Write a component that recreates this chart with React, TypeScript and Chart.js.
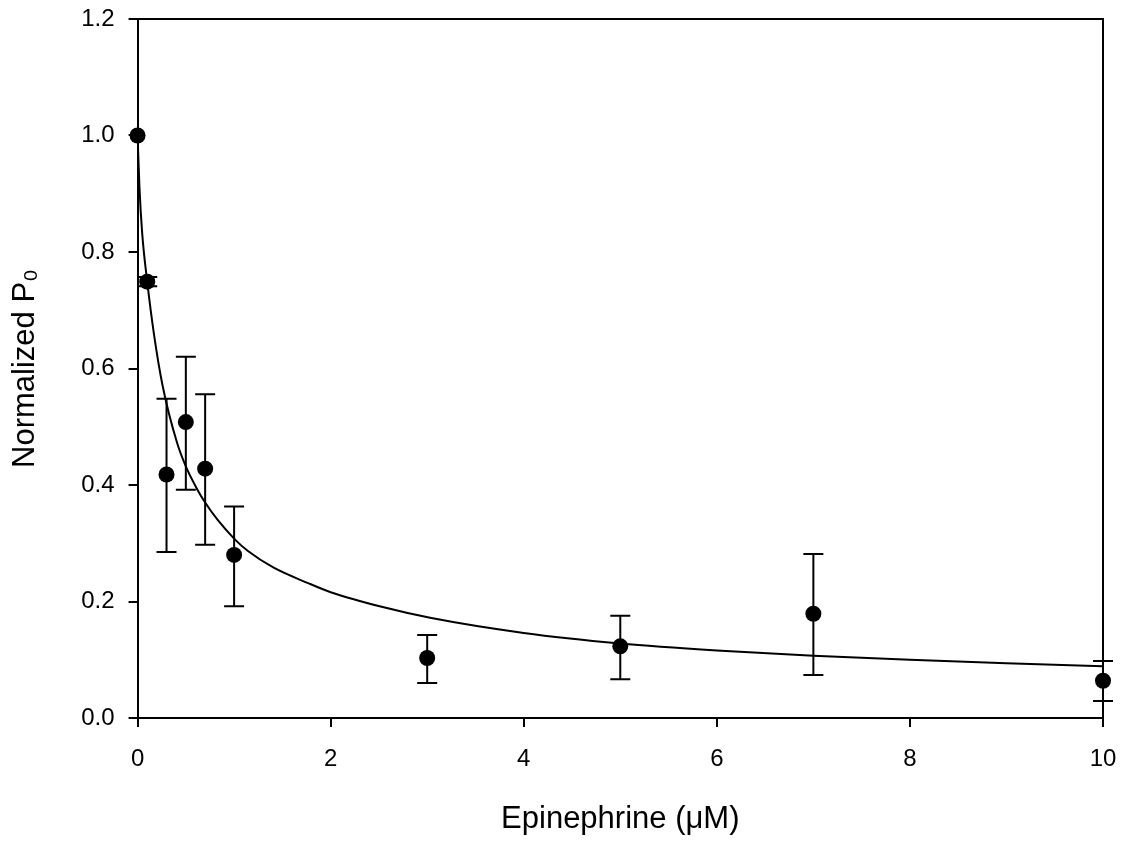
import React, { useEffect, useRef } from "react";
import { Chart, registerables } from "chart.js";

Chart.register(...registerables);

const concentrations = [0, 0.1, 0.3, 0.5, 0.7, 1, 3, 5, 7, 10];
const meanPo = [1.0, 0.749, 0.418, 0.508, 0.428, 0.28, 0.103, 0.123, 0.179, 0.064];
const errHigh = [1.0, 0.757, 0.548, 0.62, 0.556, 0.363, 0.1425, 0.1756, 0.2815, 0.098];
const errLow = [1.0, 0.741, 0.285, 0.392, 0.2975, 0.192, 0.06, 0.0664, 0.0738, 0.029];

const fitX = [0, 0.02, 0.048, 0.1, 0.169, 0.26, 0.41, 0.5, 0.62, 0.7, 0.83, 1.0, 1.14, 1.41, 1.76, 2.0, 2.55, 3.03, 4.0, 5.0, 6.0, 7.0, 8.0, 9.0, 10.0];
const fitY = [1.0, 0.91, 0.832, 0.749, 0.66, 0.57, 0.472, 0.432, 0.392, 0.37, 0.34, 0.308, 0.287, 0.258, 0.232, 0.216, 0.19, 0.172, 0.146, 0.128, 0.116, 0.107, 0.0998, 0.094, 0.089];

const xTicks = [0, 2, 4, 6, 8, 10];
const yTicks = [0, 0.2, 0.4, 0.6, 0.8, 1.0, 1.2];

const FONT = "'Liberation Sans', Arial, Helvetica, sans-serif";

const errorBarPlugin = {
  id: "errorBars",
  afterDatasetsDraw(chart: any) {
    const ctx = chart.ctx;
    const xs = chart.scales.x;
    const ys = chart.scales.y;
    ctx.save();
    ctx.strokeStyle = "#000";
    ctx.lineWidth = 2;
    for (let i = 0; i < concentrations.length; i++) {
      if (errHigh[i] === errLow[i]) continue;
      const px = xs.getPixelForValue(concentrations[i]);
      const pTop = ys.getPixelForValue(errHigh[i]);
      const pBot = ys.getPixelForValue(errLow[i]);
      const cap = 10;
      ctx.beginPath();
      ctx.moveTo(px, pTop);
      ctx.lineTo(px, pBot);
      ctx.moveTo(px - cap, pTop);
      ctx.lineTo(px + cap, pTop);
      ctx.moveTo(px - cap, pBot);
      ctx.lineTo(px + cap, pBot);
      ctx.stroke();
    }
    ctx.restore();
  },
};

const framePlugin = {
  id: "frame",
  afterDraw(chart: any) {
    const { ctx, chartArea } = chart;
    ctx.save();
    ctx.strokeStyle = "#000";
    ctx.lineWidth = 2;
    ctx.beginPath();
    ctx.moveTo(chartArea.left, chartArea.top);
    ctx.lineTo(chartArea.right, chartArea.top);
    ctx.lineTo(chartArea.right, chartArea.bottom);
    ctx.stroke();
    ctx.restore();
  },
};

const noOverflow = (axis: any) => {
  axis.paddingTop = 0;
  axis.paddingBottom = 0;
  axis.paddingLeft = 0;
  axis.paddingRight = 0;
};

export default function App() {
  const canvasRef = useRef<HTMLCanvasElement | null>(null);

  useEffect(() => {
    if (!canvasRef.current) return;
    const chart = new Chart(canvasRef.current, {
      type: "scatter",
      data: {
        datasets: [
          {
            label: "Fit",
            data: fitX.map((x, i) => ({ x, y: fitY[i] })),
            showLine: true,
            borderColor: "#000",
            borderWidth: 2,
            pointRadius: 0,
            cubicInterpolationMode: "monotone",
            fill: false,
          } as any,
          {
            label: "Normalized P0",
            data: concentrations.map((x, i) => ({ x, y: meanPo[i] })),
            pointRadius: 8,
            pointBackgroundColor: "#000",
            pointBorderColor: "#000",
            pointBorderWidth: 0,
            showLine: false,
            clip: false,
          } as any,
        ],
      },
      options: {
        responsive: false,
        animation: false,
        layout: { autoPadding: false, padding: { top: 19, right: 25, left: 0, bottom: 0 } },
        plugins: {
          legend: { display: false },
          tooltip: { enabled: false },
        },
        scales: {
          x: {
            type: "linear",
            min: 0,
            max: 10,
            afterFit: noOverflow,
            afterBuildTicks: (axis: any) => {
              axis.ticks = xTicks.map((v) => ({ value: v }));
            },
            ticks: {
              color: "#000",
              font: { family: FONT, size: 24 },
              padding: 18,
              callback: (v: any) => String(v),
            },
            grid: {
              display: true,
              drawOnChartArea: false,
              drawTicks: true,
              tickLength: 9,
              color: "#000",
              lineWidth: 2,
            },
            border: { display: true, color: "#000", width: 2 },
            title: {
              display: true,
              text: "Epinephrine (\u03bcM)",
              color: "#000",
              font: { family: FONT, size: 31 },
              padding: { top: 9, bottom: 6 },
            },
          },
          y: {
            type: "linear",
            min: 0,
            max: 1.2,
            afterFit: noOverflow,
            afterBuildTicks: (axis: any) => {
              axis.ticks = yTicks.map((v) => ({ value: v }));
            },
            ticks: {
              color: "#000",
              font: { family: FONT, size: 24 },
              padding: 14,
              callback: (v: any) => Number(v).toFixed(1),
            },
            grid: {
              display: true,
              drawOnChartArea: false,
              drawTicks: true,
              tickLength: 9,
              color: "#000",
              lineWidth: 2,
            },
            border: { display: true, color: "#000", width: 2 },
            title: {
              display: true,
              text: "Normalized P\u2080",
              color: "#000",
              font: { family: FONT, size: 31 },
              padding: { top: 7, bottom: 23 },
            },
          },
        },
      },
      plugins: [errorBarPlugin, framePlugin],
    });
    return () => chart.destroy();
  }, []);

  return (
    <div style={{ position: "absolute", left: 0, top: 0, width: 1128, height: 844, background: "#fff" }}>
      <canvas ref={canvasRef} width={1128} height={844} />
    </div>
  );
}
